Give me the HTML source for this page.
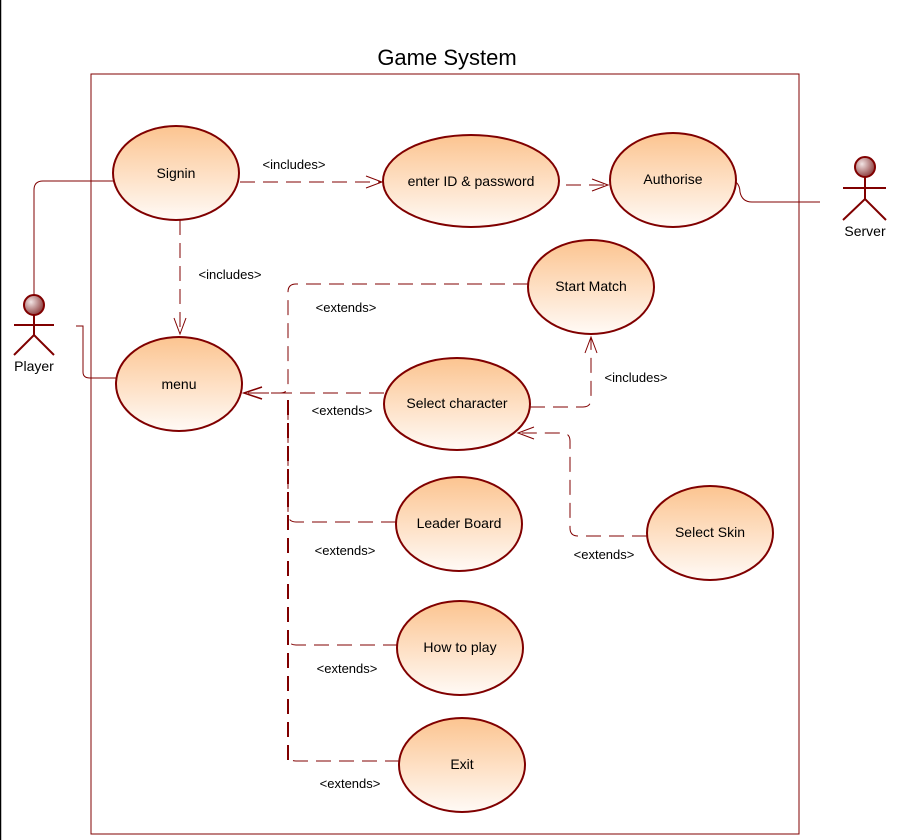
<!DOCTYPE html>
<html><head><meta charset="utf-8"><style>html,body{margin:0;padding:0;background:#fff;}svg{display:block}</style></head>
<body>
<svg width="900" height="840" viewBox="0 0 900 840" xmlns="http://www.w3.org/2000/svg" font-family="Liberation Sans, sans-serif">
<defs>
<linearGradient id="g" x1="0" y1="0" x2="0" y2="1"><stop offset="0" stop-color="#fcc490"/><stop offset="1" stop-color="#fffaf6"/></linearGradient>
<radialGradient id="h" cx="0.35" cy="0.35" r="0.7"><stop offset="0" stop-color="#f2e4e4"/><stop offset="1" stop-color="#8a3a3a"/></radialGradient>
</defs>
<line x1="0.5" y1="0" x2="0.5" y2="840" stroke="#000" stroke-width="1.5"/>
<text x="447" y="65" font-size="22" text-anchor="middle">Game System</text>
<rect x="91" y="74" width="708" height="760" fill="none" stroke="#800000" stroke-width="1"/>

<g stroke="#800000" fill="none" stroke-width="1">
<!-- actor links -->
<path d="M34,295 V190 Q34,181 43,181 H113"/>
<path d="M76,326 H83 V372 Q83,378 90,378 H116"/>
<path d="M736,182 Q740,186 740,192 Q742,202 752,202 H820"/>
</g>
<g stroke="#800000" fill="none" stroke-width="1" stroke-dasharray="15,8">
<path d="M240,182 H382"/>
<path d="M566,185 H608"/>
<path d="M180,220 V334"/>
<path d="M528,284 H296 Q288,284 288,292 V386 Q288,393 280,393 H244"/>
<path d="M384,393 H244"/>
<path d="M396,522 H296 Q288,522 288,514 V400"/>
<path d="M398,645 H296 Q288,645 288,637"/>
<path d="M400,761 H296 Q288,761 288,753"/>
<path d="M530,407 H583 Q591,407 591,399 V337"/>
<path d="M647,536 H578 Q570,536 570,528 V441 Q570,433 562,433 H518"/>
</g>
<path d="M288,400 V760" stroke="#800000" stroke-width="2" stroke-dasharray="15,8" fill="none"/>
<g stroke="#800000" fill="none" stroke-width="1">
<path d="M366,176 L382,182 L366,188"/>
<path d="M592,179 L608,185 L592,191"/>
<path d="M174,318 L180,334 L186,318"/>
<path d="M262,387 L244,393 L262,399" stroke-width="1.5"/>
<path d="M585,353 L591,337 L597,353"/>
<path d="M534,427 L518,433 L534,439"/>
</g>
<g font-size="13" fill="#000">
<text x="294" y="169" text-anchor="middle">&lt;includes&gt;</text>
<text x="230" y="279" text-anchor="middle">&lt;includes&gt;</text>
<text x="346" y="312" text-anchor="middle">&lt;extends&gt;</text>
<text x="342" y="415" text-anchor="middle">&lt;extends&gt;</text>
<text x="345" y="555" text-anchor="middle">&lt;extends&gt;</text>
<text x="347" y="673" text-anchor="middle">&lt;extends&gt;</text>
<text x="350" y="788" text-anchor="middle">&lt;extends&gt;</text>
<text x="636" y="382" text-anchor="middle">&lt;includes&gt;</text>
<text x="604" y="559" text-anchor="middle">&lt;extends&gt;</text>
</g>
<g stroke="#800000" stroke-width="2" fill="url(#g)">
<ellipse cx="176" cy="173" rx="63" ry="47"/>
<ellipse cx="471" cy="181" rx="88" ry="46"/>
<ellipse cx="673" cy="180" rx="63" ry="47"/>
<ellipse cx="591" cy="287" rx="63" ry="47"/>
<ellipse cx="179" cy="384" rx="63" ry="47"/>
<ellipse cx="457" cy="404" rx="73" ry="46"/>
<ellipse cx="459" cy="524" rx="63" ry="47"/>
<ellipse cx="460" cy="648" rx="63" ry="47"/>
<ellipse cx="462" cy="765" rx="63" ry="47"/>
<ellipse cx="710" cy="533" rx="63" ry="47"/>
</g>
<g font-size="14" text-anchor="middle" fill="#000">
<text x="176" y="178">Signin</text>
<text x="471" y="186">enter ID &amp; password</text>
<text x="673" y="184">Authorise</text>
<text x="591" y="291">Start Match</text>
<text x="179" y="389">menu</text>
<text x="457" y="408">Select character</text>
<text x="459" y="528">Leader Board</text>
<text x="460" y="652">How to play</text>
<text x="462" y="769">Exit</text>
<text x="710" y="537">Select Skin</text>
</g>
<!-- actors -->
<g stroke="#800000" stroke-width="2" fill="none">
<circle cx="34" cy="305" r="10" fill="url(#h)"/>
<path d="M34,315 V335 M14,325 H54 M14,355 L34,335 L54,355"/>
<circle cx="865" cy="167" r="10" fill="url(#h)"/>
<path d="M865,177 V199 M843,188 H886 M843,220 L865,199 L886,220"/>
</g>
<g font-size="14" text-anchor="middle" fill="#000">
<text x="34" y="371">Player</text>
<text x="865" y="236">Server</text>
</g>
</svg>
</body></html>
